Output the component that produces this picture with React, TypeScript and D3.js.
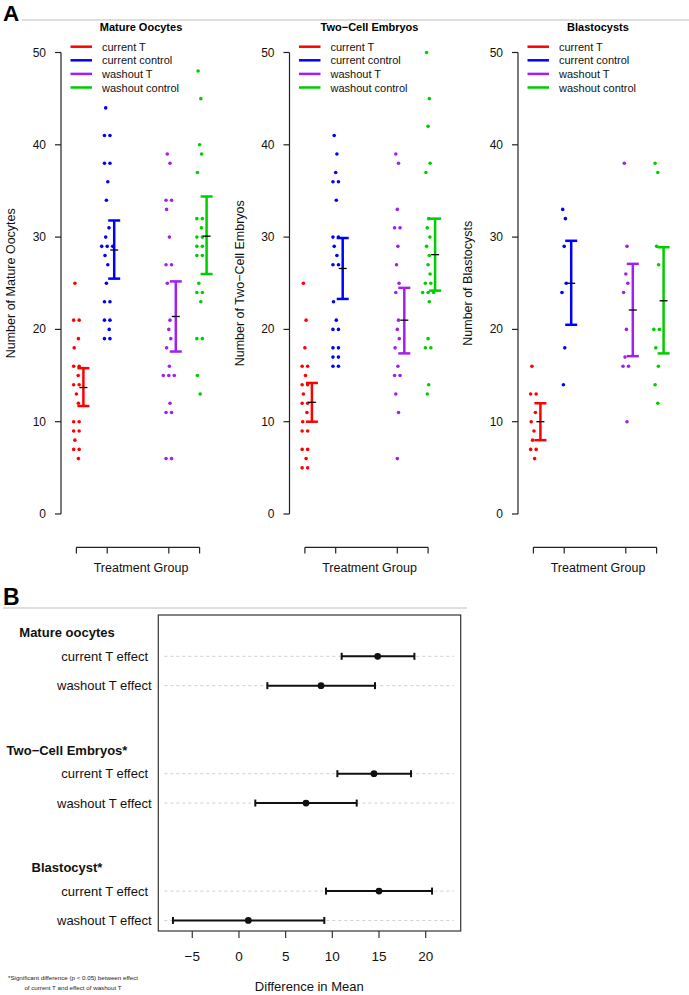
import React from "react";
import * as d3 from "d3";

// ---------- Panel A data ----------
const groupNames = ["current T", "current control", "washout T", "washout control"];
const groupPositions = [1, 2, 4, 5];
const groupColors = ["#ff0000", "#0000ff", "#a020f0", "#00cd00"];
const yTicks = [0, 10, 20, 30, 40, 50];

const panelTitles = ["Mature Oocytes", "Two\u2212Cell Embryos", "Blastocysts"];
const panelYLabels = ["Number of Mature Oocytes", "Number of Two\u2212Cell Embryos", "Number of Blastocysts"];
const xAxisLabel = "Treatment Group";

const oocytesCurrentT = [25, 21, 21, 19, 18, 16, 16, 15, 14, 14, 13, 12, 10, 10, 9, 9, 8, 7, 7, 6];
const oocytesCurrentControl = [44, 41, 41, 38, 38, 36, 34, 31, 30, 29, 29, 29, 28, 27, 25, 23, 23, 21, 21, 20, 19, 19];
const oocytesWashoutT = [39, 38, 34, 34, 33, 30, 27, 27, 25, 21, 20, 19, 18, 16, 15, 15, 15, 12, 11, 11, 6, 6];
const oocytesWashoutControl = [48, 45, 40, 39, 37, 32, 32, 31, 30, 30, 29, 29, 28, 28, 25, 24, 24, 23, 19, 19, 15, 13];
const oocytesMean = [13.7, 28.6, 21.4, 30.1];
const oocytesLower = [11.7, 25.5, 17.6, 26.0];
const oocytesUpper = [15.8, 31.8, 25.2, 34.4];

const twoCellCurrentT = [25, 21, 18, 16, 16, 15, 14, 14, 13, 12, 12, 11, 10, 9, 9, 7, 7, 6, 5, 5];
const twoCellCurrentControl = [41, 39, 37, 36, 36, 34, 30, 30, 29, 28, 27, 27, 23, 21, 20, 20, 18, 18, 17, 17, 16, 16];
const twoCellWashoutT = [39, 38, 33, 31, 31, 29, 27, 25, 24, 21, 20, 19, 18, 16, 15, 15, 13, 11, 6];
const twoCellWashoutControl = [50, 45, 42, 38, 37, 32, 31, 30, 29, 28, 27, 26, 25, 25, 24, 24, 24, 23, 19, 18, 18, 14, 13];
const twoCellMean = [12.1, 26.6, 21.0, 28.1];
const twoCellLower = [10.0, 23.3, 17.4, 24.2];
const twoCellUpper = [14.2, 29.9, 24.5, 32.0];

const blastCurrentT = [16, 13, 13, 11, 10, 9, 8, 7, 7, 6];
const blastCurrentControl = [33, 32, 29, 25, 24, 18, 14];
const blastWashoutT = [38, 29, 26, 25, 24, 20, 17, 16, 16, 10];
const blastWashoutControl = [38, 37, 29, 27, 20, 20, 18, 16, 14, 12];
const blastMean = [10.0, 25.0, 22.1, 23.1];
const blastLower = [8.0, 20.5, 17.1, 17.4];
const blastUpper = [12.0, 29.6, 27.1, 28.9];

// ---------- Panel B data ----------
const effectGroups = ["Mature oocytes", "Two\u2212Cell Embryos*", "Blastocyst*"];
const effectRowLabels = ["current T effect\u00A0", "washout T effect"];
const effectEstimate = [14.86, 8.79, 14.46, 7.18, 15.0, 1.0];
const effectLower = [11.0, 3.04, 10.54, 1.75, 9.32, -7.07];
const effectUpper = [18.79, 14.57, 18.43, 12.61, 20.68, 9.14];
const effectTicks = [-5, 0, 5, 10, 15, 20];
const effectAxisLabel = "Difference in Mean";
const footnote = [
  "*Significant difference (p < 0.05) between effect",
  "of current T and effect of washout T",
];

const FONT = "'Liberation Sans', Arial, Helvetica, sans-serif";

const panels = [
  { series: [oocytesCurrentT, oocytesCurrentControl, oocytesWashoutT, oocytesWashoutControl], mean: oocytesMean, lower: oocytesLower, upper: oocytesUpper },
  { series: [twoCellCurrentT, twoCellCurrentControl, twoCellWashoutT, twoCellWashoutControl], mean: twoCellMean, lower: twoCellLower, upper: twoCellUpper },
  { series: [blastCurrentT, blastCurrentControl, blastWashoutT, blastWashoutControl], mean: blastMean, lower: blastLower, upper: blastUpper },
];

const jitterPattern = [-1.5, 1.2, 0, 2, -2.2, 0.6, -0.8, 1.8];

function jitterOffsets(values: number[]): number[] {
  const counts = d3.rollup(values, (v) => v.length, (d) => d);
  const seen = new Map<number, number>();
  return values.map((v, i) => {
    const n = counts.get(v) || 1;
    const k = seen.get(v) || 0;
    seen.set(v, k + 1);
    if (n > 1) return (k - (n - 1) / 2) * 5.5;
    return jitterPattern[i % jitterPattern.length];
  });
}

function PanelA({ idx }: { idx: number }) {
  const p = panels[idx];
  const axisX = 61 + idx * 228.5;
  const y = d3.scaleLinear().domain([0, 50]).range([514, 52.5]);
  const x = d3.scaleLinear().domain([0.5, 5.5]).range([axisX, axisX + 154]);
  const centerX = axisX + 80;
  return (
    <g>
      <text x={centerX} y={26.7} textAnchor="middle" dominantBaseline="central" fontWeight="bold" fontSize={11}>
        {panelTitles[idx]}
      </text>
      {groupNames.map((name, k) => {
        const ly = 46.7 + k * 13.6;
        return (
          <g key={name}>
            <line x1={axisX + 9.5} x2={axisX + 31} y1={ly} y2={ly} stroke={groupColors[k]} strokeWidth={2.5} />
            <text x={axisX + 41} y={ly} dominantBaseline="central" fontSize={11} fill="#111">
              {name}
            </text>
          </g>
        );
      })}
      {/* y axis */}
      <line x1={axisX} x2={axisX} y1={y(0)} y2={y(50)} stroke="#222" strokeWidth={1.2} />
      {yTicks.map((t) => (
        <g key={t}>
          <line x1={axisX - 6} x2={axisX} y1={y(t)} y2={y(t)} stroke="#222" strokeWidth={1.2} />
          <text x={axisX - 15} y={y(t)} textAnchor="end" dominantBaseline="central" fontSize={12} fill="#111">
            {t}
          </text>
        </g>
      ))}
      <text
        transform={`translate(${axisX - 50},${(y(0) + y(50)) / 2}) rotate(-90)`}
        textAnchor="middle"
        dominantBaseline="central"
        fontSize={12.5}
        fill="#111"
      >
        {panelYLabels[idx]}
      </text>
      {/* x bracket axis */}
      <line x1={x(groupPositions[0])} x2={x(groupPositions[3])} y1={547.3} y2={547.3} stroke="#222" strokeWidth={1.2} />
      {groupPositions.map((g) => (
        <line key={g} x1={x(g)} x2={x(g)} y1={547.3} y2={553.5} stroke="#222" strokeWidth={1.2} />
      ))}
      <text x={centerX} y={568.3} textAnchor="middle" dominantBaseline="central" fontSize={12.5} fill="#111">
        {xAxisLabel}
      </text>
      {/* points */}
      {p.series.map((vals, k) => {
        const offs = jitterOffsets(vals);
        return (
          <g key={k}>
            {vals.map((v, i) => (
              <circle key={i} cx={x(groupPositions[k]) + offs[i]} cy={y(v)} r={1.8} fill={groupColors[k]} />
            ))}
          </g>
        );
      })}
      {/* error bars */}
      {groupPositions.map((g, k) => {
        const ex = x(g) + 7;
        return (
          <g key={g}>
            <line x1={ex} x2={ex} y1={y(p.lower[k])} y2={y(p.upper[k])} stroke={groupColors[k]} strokeWidth={2.5} />
            <line x1={ex - 6} x2={ex + 6} y1={y(p.lower[k])} y2={y(p.lower[k])} stroke={groupColors[k]} strokeWidth={2.5} />
            <line x1={ex - 6} x2={ex + 6} y1={y(p.upper[k])} y2={y(p.upper[k])} stroke={groupColors[k]} strokeWidth={2.5} />
            <line x1={ex - 4} x2={ex + 4} y1={y(p.mean[k])} y2={y(p.mean[k])} stroke="#000" strokeWidth={1.3} />
          </g>
        );
      })}
    </g>
  );
}

function PanelB() {
  const left = 158.3, right = 460.7, top = 615, bottom = 931;
  const x = d3.scaleLinear().domain([-8.64, 23.75]).range([left, right]);
  const rowY = (i: number) => {
    const block = Math.floor(i / 2);
    const r = i % 2;
    return 656.3 + (block * 4 + r) * 29.35;
  };
  return (
    <g>
      <rect x={left} y={top} width={right - left} height={bottom - top} fill="none" stroke="#333" strokeWidth={1.2} />
      {effectEstimate.map((_, i) => (
        <line key={"g" + i} x1={left + 6} x2={right - 7} y1={rowY(i)} y2={rowY(i)} stroke="#cfcfcf" strokeWidth={1} strokeDasharray="3,3" />
      ))}
      {effectGroups.map((g, b) => (
        <text key={g} x={67} y={rowY(b * 2) - 23.5} textAnchor="middle" dominantBaseline="central" fontWeight="bold" fontSize={13} fill="#111">
          {g}
        </text>
      ))}
      {effectEstimate.map((v, i) => {
        const yy = rowY(i);
        return (
          <g key={i}>
            <text x={151.7} y={yy} textAnchor="end" dominantBaseline="central" fontSize={13} fill="#111">
              {effectRowLabels[i % 2]}
            </text>
            <line x1={x(effectLower[i])} x2={x(effectUpper[i])} y1={yy} y2={yy} stroke="#111" strokeWidth={2} />
            <line x1={x(effectLower[i])} x2={x(effectLower[i])} y1={yy - 3.5} y2={yy + 3.5} stroke="#111" strokeWidth={2} />
            <line x1={x(effectUpper[i])} x2={x(effectUpper[i])} y1={yy - 3.5} y2={yy + 3.5} stroke="#111" strokeWidth={2} />
            <circle cx={x(v)} cy={yy} r={3.4} fill="#111" />
          </g>
        );
      })}
      {effectTicks.map((t) => (
        <g key={t}>
          <line x1={x(t)} x2={x(t)} y1={bottom} y2={bottom + 7} stroke="#333" strokeWidth={1.2} />
          <text x={x(t)} y={956} textAnchor="middle" dominantBaseline="central" fontSize={13.5} fill="#111">
            {t < 0 ? "\u2212" + Math.abs(t) : t}
          </text>
        </g>
      ))}
      <text x={309.3} y={986.5} textAnchor="middle" dominantBaseline="central" fontSize={13} fill="#111">
        {effectAxisLabel}
      </text>
      {footnote.map((f, i) => (
        <text key={i} x={73} y={977 + i * 10} textAnchor="middle" dominantBaseline="central" fontSize={6.2} fill="#222">
          {f}
        </text>
      ))}
    </g>
  );
}

export default function App() {
  return (
    <svg
      width={689}
      height={995}
      viewBox="0 0 689 995"
      style={{ position: "absolute", left: 0, top: 0, background: "#fff" }}
      fontFamily={FONT}
    >
      <rect x={0} y={0} width={689} height={995} fill="#fff" />
      <line x1={22} x2={689} y1={20} y2={20} stroke="#dedede" strokeWidth={2} />
      <text x={3} y={21} fontWeight="bold" fontSize={22.5} fill="#000">A</text>
      {[0, 1, 2].map((i) => (
        <PanelA key={i} idx={i} />
      ))}
      <line x1={3} x2={467} y1={608} y2={608} stroke="#dedede" strokeWidth={2} />
      <text x={3} y={605} fontWeight="bold" fontSize={23} fill="#000">B</text>
      <PanelB />
    </svg>
  );
}
